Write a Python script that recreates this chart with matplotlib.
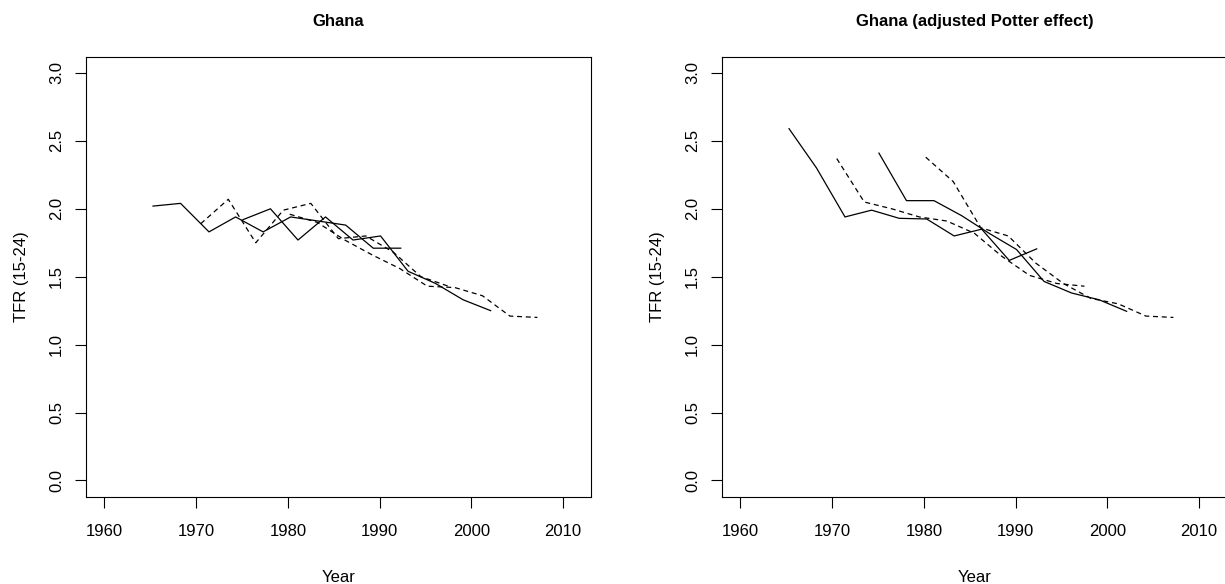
import matplotlib
matplotlib.use("Agg")
import matplotlib.pyplot as plt

plt.rcParams['font.family'] = ['Liberation Sans', 'DejaVu Sans']

# === Data: TFR (15-24) by survey ===
# four surveys, each a run of 3-year period estimates
yrs_a = [1965.3, 1968.3, 1971.4, 1974.3, 1977.3, 1980.3, 1983.3, 1986.3, 1989.3, 1992.3]
yrs_b = [1970.5, 1973.5, 1976.5, 1979.5, 1982.5, 1985.5, 1988.5, 1991.5, 1994.5, 1997.5]
yrs_c = [1975.1, 1978.1, 1981.1, 1984.1, 1987.1, 1990.1, 1993.1, 1996.1, 1999.1, 2002.1]
yrs_d = [1980.2, 1983.2, 1986.2, 1989.2, 1992.2, 1995.2, 1998.2, 2001.2, 2004.2, 2007.2]

# raw
raw_a = [2.02, 2.04, 1.83, 1.94, 1.83, 1.94, 1.91, 1.88, 1.71, 1.71]
raw_b = [1.89, 2.07, 1.75, 1.99, 2.04, 1.78, 1.80, 1.68, 1.50, 1.43]
raw_c = [1.92, 2.00, 1.77, 1.94, 1.77, 1.80, 1.54, 1.45, 1.33, 1.25]
raw_d = [1.96, 1.90, 1.77, 1.66, 1.56, 1.43, 1.42, 1.36, 1.21, 1.20]

# adjusted Potter effect
adj_a = [2.59, 2.30, 1.94, 1.99, 1.93, 1.925, 1.80, 1.85, 1.62, 1.705]
adj_b = [2.37, 2.05, 2.00, 1.94, 1.91, 1.82, 1.65, 1.51, 1.45, 1.43]
adj_c = [2.41, 2.06, 2.06, 1.95, 1.82, 1.70, 1.465, 1.38, 1.33, 1.245]
adj_d = [2.38, 2.20, 1.86, 1.80, 1.60, 1.45, 1.34, 1.30, 1.21, 1.20]

xticks = [1960, 1970, 1980, 1990, 2000, 2010]
yticks = [0.0, 0.5, 1.0, 1.5, 2.0, 2.5, 3.0]

panels = [
    ("Ghana", [raw_a, raw_b, raw_c, raw_d]),
    ("Ghana (adjusted Potter effect)", [adj_a, adj_b, adj_c, adj_d]),
]
years = [yrs_a, yrs_b, yrs_c, yrs_d]
styles = ['-', '--', '-', '--']

fig = plt.figure(figsize=(12.25, 5.84), dpi=100)
lefts = [85.7 / 1225, 721.7 / 1225]

for left, (title, series) in zip(lefts, panels):
    ax = fig.add_axes([left, 1 - 496.7 / 584, 505.3 / 1225, 440 / 584])
    for yr, vals, ls in zip(years, series, styles):
        line, = ax.plot(yr, vals, color='black', lw=0.9, ls=ls)
        if ls == '--':
            line.set_dashes((4.0, 3.0))
    ax.set_xlim(1957.96, 2013.04)
    ax.set_ylim(-0.12, 3.12)
    ax.set_xticks(xticks)
    ax.set_yticks(yticks)
    ax.set_yticklabels([f"{v:.1f}" for v in yticks], rotation=90, va='center')
    ax.tick_params(length=7.7, width=0.8, labelsize=12, color='black')
    ax.tick_params(axis='x', pad=12)
    ax.tick_params(axis='y', pad=8)
    for sp in ax.spines.values():
        sp.set_linewidth(0.8)
    ax.set_title(title, fontsize=12, fontweight='bold', pad=22)
    ax.set_xlabel("Year", fontsize=12, labelpad=22)
    ax.set_ylabel("TFR (15-24)", fontsize=12, labelpad=14)

fig.savefig("out.png", dpi=100)
